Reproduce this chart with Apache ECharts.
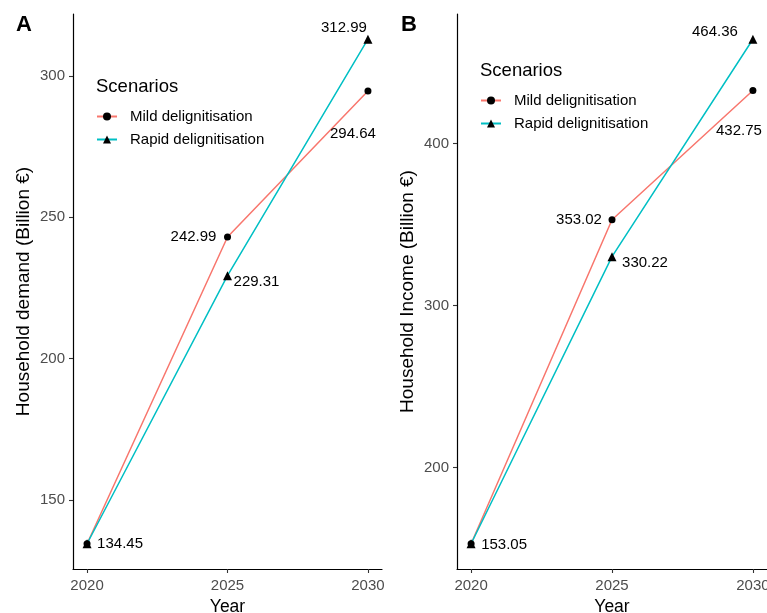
<!DOCTYPE html>
<html>
<head>
<meta charset="utf-8">
<script src="https://cdn.jsdelivr.net/npm/echarts@6/dist/echarts.min.js"></script>
<style>
html,body{margin:0;padding:0;background:#fff;}
#chart{width:767px;height:613px;}
</style>
</head>
<body>
<div id="chart"></div>
<script>
// ---- data ----
var years = [2020, 2025, 2030];
var seriesNames = ['Mild delignitisation', 'Rapid delignitisation'];
var demandMild = [134.45, 242.99, 294.64];
var demandRapid = [134.45, 229.31, 312.99];
var incomeMild = [153.05, 353.02, 432.75];
var incomeRapid = [153.05, 330.22, 464.36];
var xTicks = [2020, 2025, 2030];
var demandTicks = [150, 200, 250, 300];
var incomeTicks = [200, 300, 400];

// ---- label placement (offsets from the point, in px); null = no label ----
var labelOffsets = {
  demandMild: [null, [-34, 0], [-15, 43]],
  demandRapid: [[33, 0], [29, 6], [-24, -11]],
  incomeMild: [null, [-33, 0], [-14, 40]],
  incomeRapid: [[33, 1], [33, 6], [-38, -7]]
};

var FONT = '"Liberation Sans", Arial, Helvetica, sans-serif';
var RED = '#F8766D', TEAL = '#00BFC4';

function pad(vals) {
  var lo = Math.min.apply(null, vals), hi = Math.max.apply(null, vals);
  var r = hi - lo;
  return [lo - 0.05 * r, hi + 0.05 * r];
}

function buildData(vals, offs) {
  return vals.map(function (v, i) {
    var o = offs[i];
    return {
      value: [years[i], v],
      label: o ? {
        show: true, position: 'inside',
        formatter: v.toFixed(2), color: '#000', fontSize: 15, fontFamily: FONT
      } : { show: false }
    };
  });
}

function makeSeries(name, vals, offs, idx, color, symbol, size) {
  return {
    type: 'line', name: name, xAxisIndex: idx, yAxisIndex: idx,
    data: buildData(vals, offs),
    symbol: symbol, symbolSize: size,
    lineStyle: { color: color, width: 1.5 },
    itemStyle: { color: '#000' },
    emphasis: { disabled: true },
    labelLayout: function (p) {
      var o = offs[p.dataIndex] || [0, 0];
      return { dx: o[0], dy: o[1], hideOverlap: false };
    }
  };
}

var xr = pad(years);
var dr = pad(demandMild.concat(demandRapid));
var ir = pad(incomeMild.concat(incomeRapid));

function xAxis(idx) {
  return {
    type: 'value', gridIndex: idx, min: xr[0], max: xr[1],
    name: 'Year', nameLocation: 'middle', nameGap: 25,
    nameTextStyle: { color: '#000', fontSize: 17.5, fontFamily: FONT },
    axisLine: { show: true, onZero: false, lineStyle: { color: '#000', width: 1.2 } },
    axisTick: { show: true, length: 4, lineStyle: { color: '#333', width: 1.1 }, customValues: xTicks },
    axisLabel: { color: '#4D4D4D', fontSize: 15, fontFamily: FONT, margin: 9, customValues: xTicks,
      formatter: function (v) { return String(v); } },
    splitLine: { show: false }
  };
}
function yAxis(idx, range, ticks, name) {
  return {
    type: 'value', gridIndex: idx, min: range[0], max: range[1],
    name: name, nameLocation: 'middle', nameGap: 40,
    nameTextStyle: { color: '#000', fontSize: 19, fontFamily: FONT },
    axisLine: { show: true, onZero: false, lineStyle: { color: '#000', width: 1.2 } },
    axisTick: { show: true, length: 4, lineStyle: { color: '#333', width: 1.1 }, customValues: ticks },
    axisLabel: { color: '#4D4D4D', fontSize: 15, fontFamily: FONT, margin: 8, customValues: ticks,
      formatter: function (v) { return String(v); } },
    splitLine: { show: false }
  };
}

function legend(left, top) {
  return {
    orient: 'vertical', left: left, top: top,
    data: seriesNames, itemWidth: 20, itemHeight: 10, itemGap: 8,
    selectedMode: false,
    textStyle: { color: '#000', fontSize: 15, fontFamily: FONT, padding: [0, 0, 0, 8] }
  };
}

var chart = echarts.init(document.getElementById('chart'));
chart.setOption({
  animation: false,
  backgroundColor: '#fff',
  title: [
    { text: 'A', left: 11, top: 9, textStyle: { fontSize: 22, fontWeight: 'bold', color: '#000', fontFamily: FONT } },
    { text: 'B', left: 396, top: 9, textStyle: { fontSize: 22, fontWeight: 'bold', color: '#000', fontFamily: FONT } },
    { text: 'Scenarios', left: 91, top: 72, textStyle: { fontSize: 18.5, fontWeight: 'normal', color: '#000', fontFamily: FONT } },
    { text: 'Scenarios', left: 475, top: 56, textStyle: { fontSize: 18.5, fontWeight: 'normal', color: '#000', fontFamily: FONT } }
  ],
  legend: [legend(91, 104), legend(475, 88)],
  grid: [
    { left: 73, top: 14, width: 309, height: 555, containLabel: false, outerBoundsMode: 'none' },
    { left: 457, top: 14, width: 310, height: 555, containLabel: false, outerBoundsMode: 'none' }
  ],
  xAxis: [xAxis(0), xAxis(1)],
  yAxis: [
    yAxis(0, dr, demandTicks, 'Household demand (Billion €)'),
    yAxis(1, ir, incomeTicks, 'Household Income (Billion €)')
  ],
  series: [
    makeSeries(seriesNames[0], demandMild, labelOffsets.demandMild, 0, RED, 'circle', 7),
    makeSeries(seriesNames[1], demandRapid, labelOffsets.demandRapid, 0, TEAL, 'triangle', 9),
    makeSeries(seriesNames[0], incomeMild, labelOffsets.incomeMild, 1, RED, 'circle', 7),
    makeSeries(seriesNames[1], incomeRapid, labelOffsets.incomeRapid, 1, TEAL, 'triangle', 9)
  ]
});
</script>
</body>
</html>
